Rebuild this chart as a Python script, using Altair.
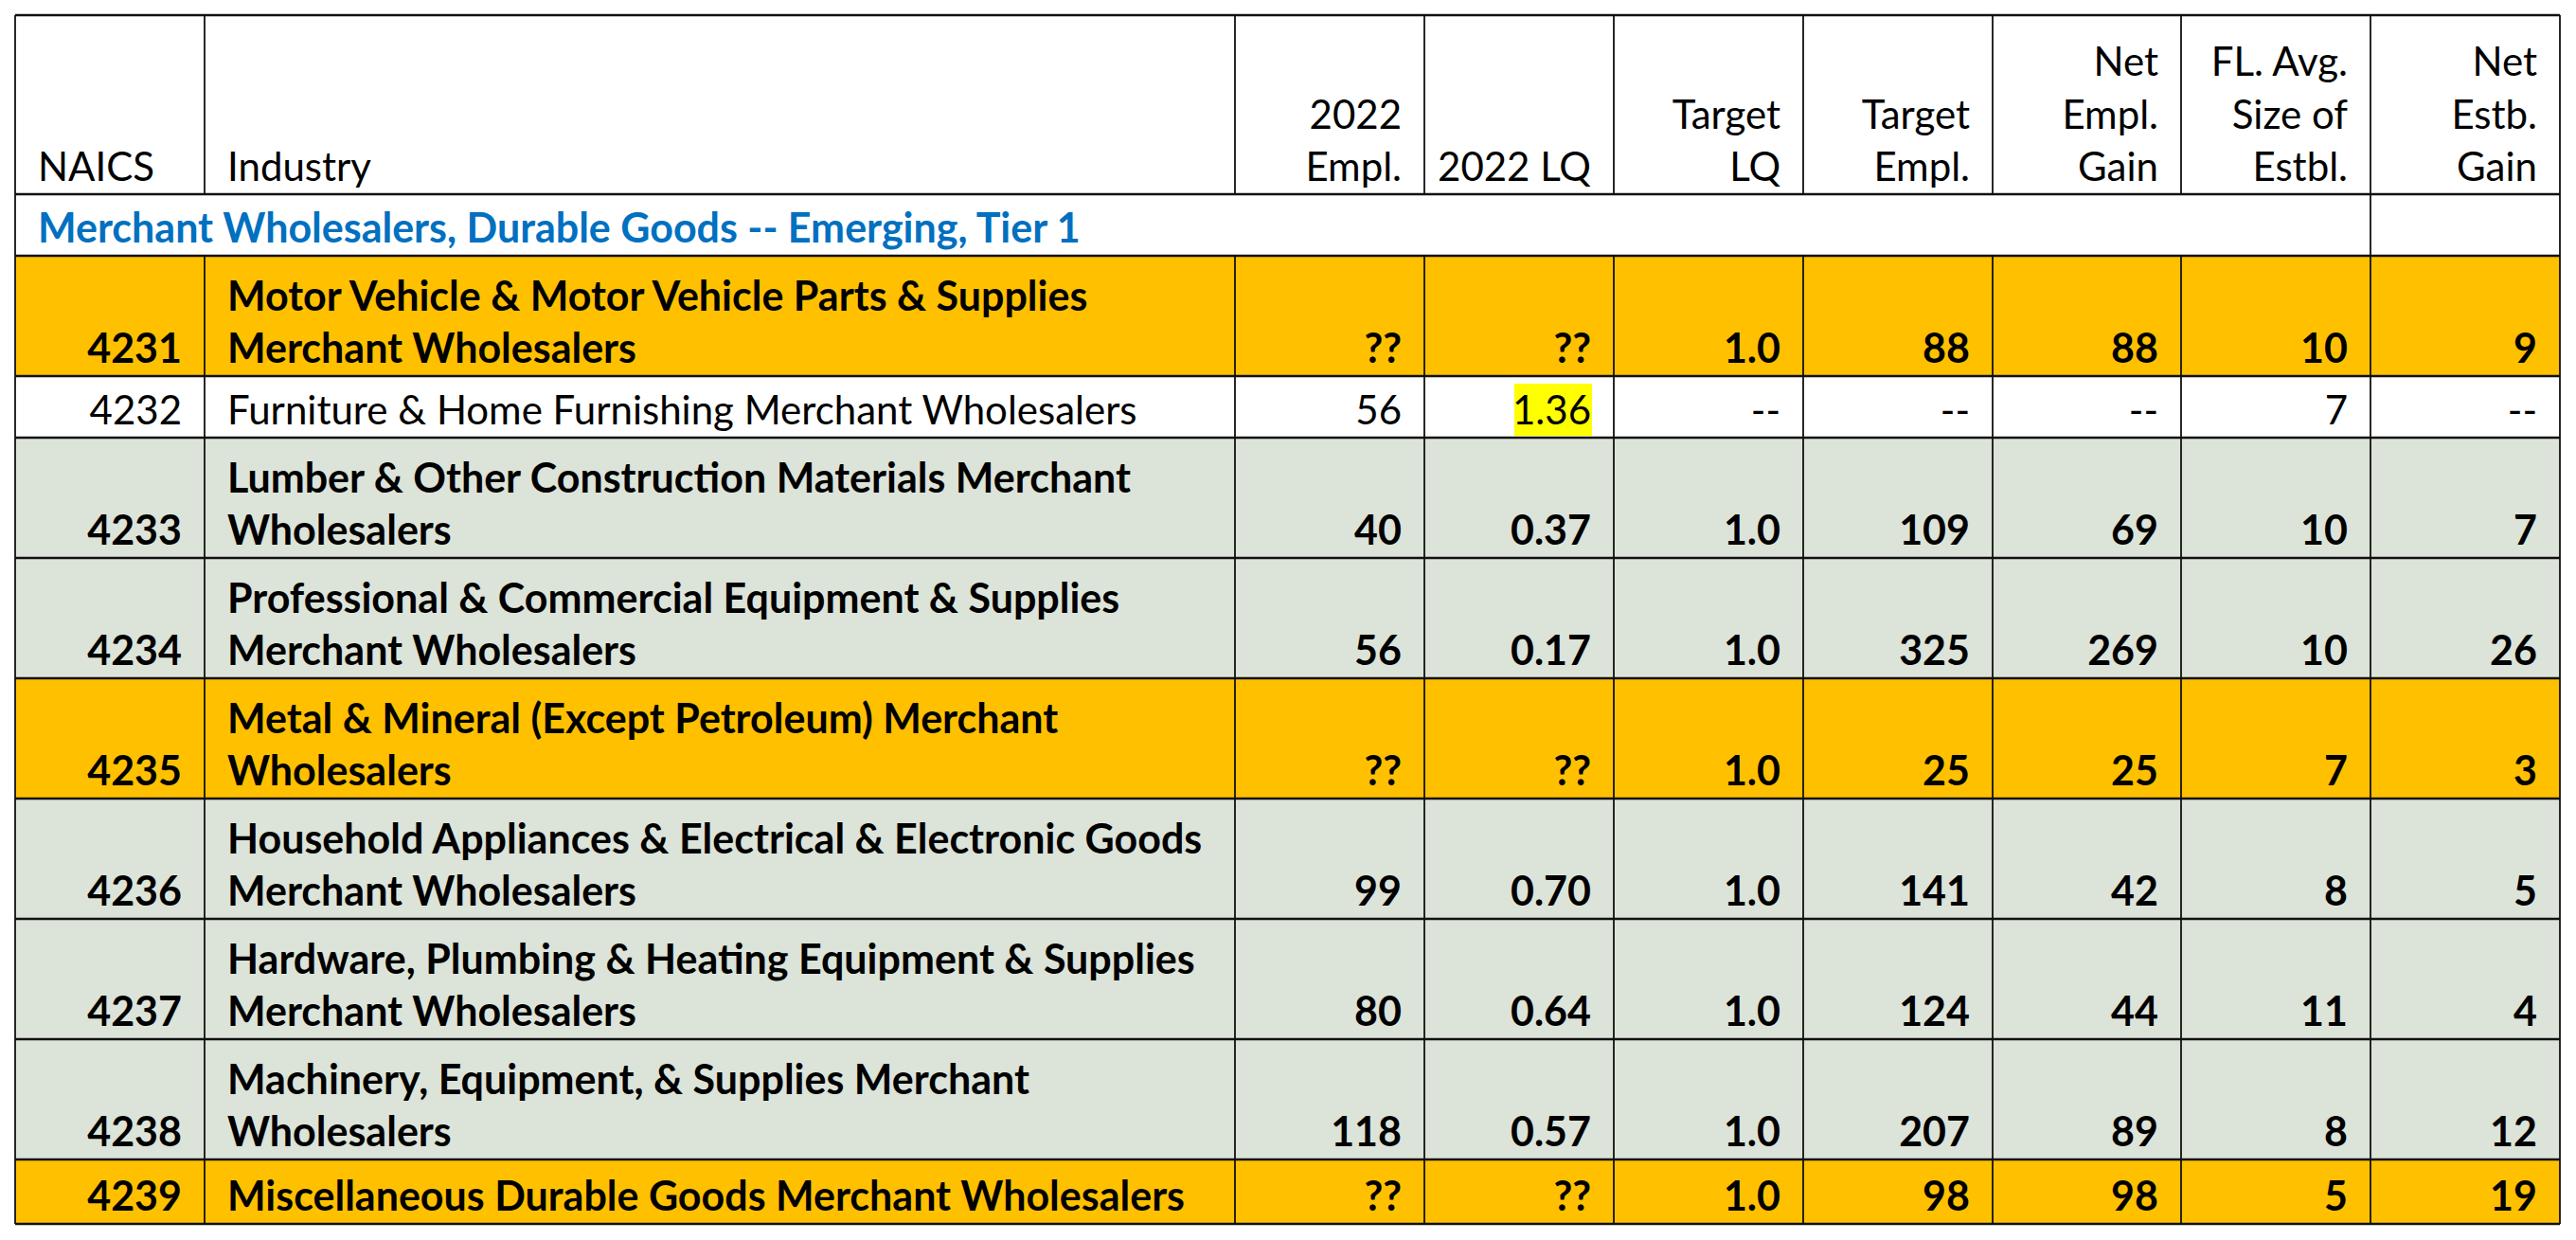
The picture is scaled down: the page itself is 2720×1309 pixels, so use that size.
import altair as alt
import pandas as pd

# ---------------- data ----------------
HEADERS = [["NAICS"], ["Industry"], ["2022", "Empl."], ["2022 LQ"], ["Target", "LQ"],
           ["Target", "Empl."], ["Net", "Empl.", "Gain"], ["FL. Avg.", "Size of", "Estbl."],
           ["Net", "Estb.", "Gain"]]
SECTION = "Merchant Wholesalers, Durable Goods -- Emerging, Tier 1"
NAICS = ["4231", "4232", "4233", "4234", "4235", "4236", "4237", "4238", "4239"]
INDUSTRY = [
    ["Motor Vehicle & Motor Vehicle Parts & Supplies", "Merchant Wholesalers"],
    ["Furniture & Home Furnishing Merchant Wholesalers"],
    ["Lumber & Other Construction Materials Merchant", "Wholesalers"],
    ["Professional & Commercial Equipment & Supplies", "Merchant Wholesalers"],
    ["Metal & Mineral (Except Petroleum) Merchant", "Wholesalers"],
    ["Household Appliances & Electrical & Electronic Goods", "Merchant Wholesalers"],
    ["Hardware, Plumbing & Heating Equipment & Supplies", "Merchant Wholesalers"],
    ["Machinery, Equipment, & Supplies Merchant", "Wholesalers"],
    ["Miscellaneous Durable Goods Merchant Wholesalers"],
]
EMPL_2022 = ["??", "56", "40", "56", "??", "99", "80", "118", "??"]
LQ_2022 = ["??", "1.36", "0.37", "0.17", "??", "0.70", "0.64", "0.57", "??"]
TARGET_LQ = ["1.0", "--", "1.0", "1.0", "1.0", "1.0", "1.0", "1.0", "1.0"]
TARGET_EMPL = ["88", "--", "109", "325", "25", "141", "124", "207", "98"]
NET_EMPL_GAIN = ["88", "--", "69", "269", "25", "42", "44", "89", "98"]
AVG_SIZE = ["10", "7", "10", "10", "7", "8", "11", "8", "5"]
NET_ESTB_GAIN = ["9", "--", "7", "26", "3", "5", "4", "12", "19"]
ROW_STATUS = ["unknown", "above", "below", "below", "unknown", "below", "below", "below", "unknown"]

# ---------------- layout / style ----------------
FONT = "Lato"
FS = {"normal": 42.0, "bold": 43.0}
LINE_GAP = 55.5
BASE_OFF = 14
PAD = 24
COL_EDGES = [16, 216, 1304, 1504, 1704, 1904, 2104, 2303, 2503, 2703]
TOP = 16
HEADER_H = 189
SECTION_H = 65
ONE_LINE_H = 65
TWO_LINE_H = 127
LAST_EXTRA = 3
FILL = {"unknown": "#FFC000", "above": "#FFFFFF", "below": "#DCE3D8"}
BOLD = {"unknown": True, "above": False, "below": True}
BLUE = "#0070C0"

# row edges
heights = [HEADER_H, SECTION_H] + [TWO_LINE_H if len(l) == 2 else ONE_LINE_H for l in INDUSTRY]
heights[-1] += LAST_EXTRA
row_edges = [TOP]
for h in heights:
    row_edges.append(row_edges[-1] + h)

cells, texts, rules = [], [], []


def add_text(lines, col, bottom, align, weight, color):
    n = len(lines)
    for i, t in enumerate(lines):
        y = bottom - BASE_OFF - LINE_GAP * (n - 1 - i)
        x = COL_EDGES[col] + PAD if align == "left" else COL_EDGES[col + 1] - PAD
        texts.append(dict(x=x, y=y, text=t, align=align, weight=weight, color=color))


# header
hb = row_edges[1]
cells.append(dict(x=COL_EDGES[0], x2=COL_EDGES[-1], y=row_edges[0], y2=hb, fill="#FFFFFF"))
for c, lines in enumerate(HEADERS):
    add_text(lines, c, hb, "left" if c < 2 else "right", "normal", "#000000")

# section row
sb = row_edges[2]
cells.append(dict(x=COL_EDGES[0], x2=COL_EDGES[-1], y=row_edges[1], y2=sb, fill="#FFFFFF"))
texts.append(dict(x=COL_EDGES[0] + PAD, y=sb - BASE_OFF, text=SECTION, align="left",
                  weight="bold", color=BLUE))

highlights = []
cols = [EMPL_2022, LQ_2022, TARGET_LQ, TARGET_EMPL, NET_EMPL_GAIN, AVG_SIZE, NET_ESTB_GAIN]
for r in range(len(NAICS)):
    top, bottom = row_edges[r + 2], row_edges[r + 3]
    st = ROW_STATUS[r]
    w = "bold" if BOLD[st] else "normal"
    cells.append(dict(x=COL_EDGES[0], x2=COL_EDGES[-1], y=top, y2=bottom, fill=FILL[st]))
    add_text([NAICS[r]], 0, bottom, "right", w, "#000000")
    add_text(INDUSTRY[r], 1, bottom, "left", w, "#000000")
    for k, vals in enumerate(cols):
        add_text([vals[r]], k + 2, bottom, "right", w, "#000000")
    try:
        lq = float(LQ_2022[r])
    except ValueError:
        lq = None
    if lq is not None and lq > 1:
        x2 = COL_EDGES[4] - 23
        highlights.append(dict(x=x2 - 82, x2=x2, y=bottom - 57, y2=bottom - 2, fill="#FFFF00"))

# grid lines
for yv in row_edges:
    rules.append(dict(x=COL_EDGES[0], x2=COL_EDGES[-1], y=yv, y2=yv, sw=2.5))
for ci, xv in enumerate(COL_EDGES):
    for ri in range(len(row_edges) - 1):
        if ri == 1 and ci not in (0, len(COL_EDGES) - 2, len(COL_EDGES) - 1):
            continue
        rules.append(dict(x=xv, x2=xv, y=row_edges[ri], y2=row_edges[ri + 1], sw=1.8))

cells_df = pd.DataFrame(cells + highlights)
rules_df = pd.DataFrame(rules)
texts_df = pd.DataFrame(texts)

XS = alt.Scale(domain=[8, 2712], nice=False, zero=False)
YS = alt.Scale(domain=[8, 1301], reverse=True, nice=False, zero=False)


def X(f):
    return alt.X(f, type="quantitative", scale=XS, axis=None)


def Y(f):
    return alt.Y(f, type="quantitative", scale=YS, axis=None)


rect_layer = alt.Chart(cells_df).mark_rect().encode(
    x=X("x"), x2="x2", y=Y("y"), y2="y2",
    fill=alt.Fill("fill:N", scale=None))

rule_layer = alt.Chart(rules_df).mark_rule(color="#111111").encode(
    x=X("x"), x2="x2", y=Y("y"), y2="y2",
    strokeWidth=alt.StrokeWidth("sw:Q", scale=None))

text_layers = []
for (align, weight, color), g in texts_df.groupby(["align", "weight", "color"]):
    text_layers.append(
        alt.Chart(g.reset_index(drop=True)).mark_text(
            align=align, baseline="alphabetic", font=FONT, fontSize=FS[weight],
            fontWeight=weight, color=color).encode(
            x=X("x"), y=Y("y"), text="text:N"))

chart = alt.layer(rect_layer, rule_layer, *text_layers).properties(
    width=2704, height=1293, padding=0, autosize="none"
).configure_view(strokeWidth=0)

chart.save("out.html", embed_options={"renderer": "svg", "actions": False})
